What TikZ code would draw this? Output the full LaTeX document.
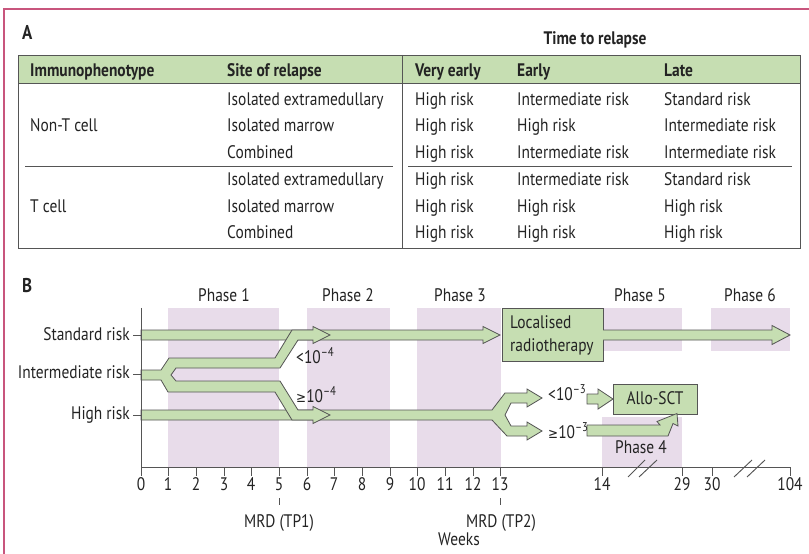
\documentclass[tikz,border=0pt]{standalone}
\usepackage{fontspec}
\setmainfont{PT Sans}[FakeStretch=0.85]
\newfontfamily\symfont{DejaVu Sans}[FakeStretch=0.85]
\usetikzlibrary{positioning}
\definecolor{framepink}{RGB}{200,85,125}
\definecolor{headgreen}{RGB}{198,222,178}
\definecolor{phaselilac}{RGB}{232,220,234}
\definecolor{linegray}{RGB}{85,85,85}
\definecolor{textgray}{RGB}{35,35,35}
\tikzset{
  lbl/.style={inner sep=0pt, text=textgray, font=\fontsize{15.5}{18}\selectfont},
  hdr/.style={inner sep=0pt, text=textgray, font=\fontsize{15.5}{18}\selectfont\bfseries},
  tabline/.style={draw=linegray, line width=0.8pt},
  blockarrow/.style={fill=headgreen, draw=linegray, line width=0.7pt, line join=miter},
  boxnode/.style={fill=headgreen, draw=linegray, line width=0.7pt},
}
\newcommand{\gesym}{{\symfont\fontsize{12}{14}\selectfont ≥}}
\begin{document}
\begin{tikzpicture}[x=0.3mm, y=-0.3mm]
  \useasboundingbox (0,0) rectangle (809,554);
  \draw[framepink, line width=1.2pt] (4,580) -- (4,9) -- (840,9);

  \node[hdr, anchor=base west, font=\fontsize{17}{19}\selectfont\bfseries] (labA) at (22,39.5) {A};
  \node[hdr, anchor=base] (ttr) at (595,45) {Time to relapse};

  \fill[headgreen] (18,55) rectangle (800,83);
  \draw[tabline] (18,55) rectangle (800,248);
  \draw[tabline] (18,83) -- (800,83);
  \draw[tabline] (402,55) -- (402,248);
  \draw[tabline] (25,166) -- (393,166);
  \draw[tabline] (408,166) -- (792,166);

  \node[hdr, anchor=base west] (himmuno) at (30,77) {Immunophenotype};
  \node[hdr, anchor=base west] (hsite) at (227,77) {Site of relapse};
  \node[hdr, anchor=base west] (hvery) at (415,77) {Very early};
  \node[hdr, anchor=base west] (hearly) at (517,77) {Early};
  \node[hdr, anchor=base west] (hlate) at (664,77) {Late};

  \node[lbl, anchor=base west] (nont) at (30,132) {Non-T cell};
  \node[lbl, anchor=base west] (tcell) at (30,213) {T cell};

  \node[lbl, anchor=base west] (s1) at (227,105.5) {Isolated extramedullary};
  \node[lbl, anchor=base west] (s2) at (227,132) {Isolated marrow};
  \node[lbl, anchor=base west] (s3) at (227,158.5) {Combined};
  \node[lbl, anchor=base west] (s4) at (227,185.5) {Isolated extramedullary};
  \node[lbl, anchor=base west] (s5) at (227,212.5) {Isolated marrow};
  \node[lbl, anchor=base west] (s6) at (227,239) {Combined};

  \node[lbl, anchor=base west] (v1) at (415,105.5) {High risk};
  \node[lbl, anchor=base west] (v2) at (415,132) {High risk};
  \node[lbl, anchor=base west] (v3) at (415,158.5) {High risk};
  \node[lbl, anchor=base west] (v4) at (415,185.5) {High risk};
  \node[lbl, anchor=base west] (v5) at (415,212.5) {High risk};
  \node[lbl, anchor=base west] (v6) at (415,239) {High risk};

  \node[lbl, anchor=base west] (e1) at (517,105.5) {Intermediate risk};
  \node[lbl, anchor=base west] (e2) at (517,132) {High risk};
  \node[lbl, anchor=base west] (e3) at (517,158.5) {Intermediate risk};
  \node[lbl, anchor=base west] (e4) at (517,185.5) {Intermediate risk};
  \node[lbl, anchor=base west] (e5) at (517,212.5) {High risk};
  \node[lbl, anchor=base west] (e6) at (517,239) {High risk};

  \node[lbl, anchor=base west] (l1) at (664,105.5) {Standard risk};
  \node[lbl, anchor=base west] (l2) at (664,132) {Intermediate risk};
  \node[lbl, anchor=base west] (l3) at (664,158.5) {Intermediate risk};
  \node[lbl, anchor=base west] (l4) at (664,185.5) {Standard risk};
  \node[lbl, anchor=base west] (l5) at (664,212.5) {High risk};
  \node[lbl, anchor=base west] (l6) at (664,239) {High risk};

  \node[hdr, anchor=base west, font=\fontsize{17}{19}\selectfont\bfseries] (labB) at (22,293) {B};

  \fill[phaselilac] (168,308) rectangle (279,467);
  \fill[phaselilac] (307,308) rectangle (390,467);
  \fill[phaselilac] (417,308) rectangle (501,467);
  \fill[phaselilac] (602,308) rectangle (682,351);
  \fill[phaselilac] (711,308) rectangle (790,351);
  \fill[phaselilac] (602,417) rectangle (682,467);

  \node[lbl, anchor=base] (ph1) at (224,302) {Phase 1};
  \node[lbl, anchor=base] (ph2) at (348,302) {Phase 2};
  \node[lbl, anchor=base] (ph3) at (460,302) {Phase 3};
  \node[lbl, anchor=base] (ph5) at (640,302) {Phase 5};
  \node[lbl, anchor=base] (ph6) at (750,302) {Phase 6};
  \node[lbl, anchor=base] (ph4) at (641,453) {Phase 4};

  \node[lbl, anchor=base east] (stdrisk) at (130,340) {Standard risk};
  \node[lbl, anchor=base east] (intrisk) at (130,378) {Intermediate risk};
  \node[lbl, anchor=base east] (highrisk) at (130,419) {High risk};
  \draw[linegray, line width=0.8pt] (133,335) -- (141,335);
  \draw[linegray, line width=0.8pt] (133,374) -- (141,374);
  \draw[linegray, line width=0.8pt] (133,415) -- (141,415);

  \draw[blockarrow] (141,330) -- (483,330) -- (483,326.5) -- (500,335) -- (483,343.5) -- (483,340) -- (141,340) -- cycle;
  \draw[blockarrow] (141,410) -- (492,410) -- (505,393) -- (527,393) -- (527,389) -- (542,398) -- (527,407) -- (527,403) -- (511,403) -- (505,415)
    -- (511,426) -- (527,426) -- (527,422) -- (542,431) -- (527,440) -- (527,436) -- (507,436) -- (492,420) -- (141,420) -- cycle;
  \draw[blockarrow] (141,370) -- (161,370) -- (169,358) -- (275,358) -- (292,330) -- (313,330) -- (313,326.5) -- (330,335) -- (313,343.5) -- (313,340) -- (298,340) -- (280,368)
    -- (176,368) -- (171,375) -- (176,381) -- (280,381) -- (298,410) -- (313,410) -- (313,406.5) -- (330,415) -- (313,423.5) -- (313,420) -- (292,420) -- (275,392)
    -- (168,392) -- (161,380) -- (141,380) -- cycle;

  \node[boxnode, minimum width=101*0.3mm, minimum height=53*0.3mm, inner sep=0pt] (radio) at (552.5,334.5) {};
  \node[lbl, anchor=base west] (radio1) at (510,328) {Localised};
  \node[lbl, anchor=base west] (radio2) at (510,351) {radiotherapy};
  \draw[blockarrow] (603,330) -- (772,330) -- (772,325.5) -- (790,335) -- (772,344.5) -- (772,340) -- (603,340);

  \node[boxnode, minimum width=84*0.3mm, minimum height=30*0.3mm, inner sep=0pt] (allo) at (655,399) {};
  \node[lbl, anchor=base] (allotxt) at (655,404) {Allo-SCT};
  \draw[blockarrow] (587,394) -- (598,394) -- (598,389) -- (613,399) -- (598,409) -- (598,404) -- (587,404) -- cycle;
  \draw[blockarrow] (587,425) -- (660,425) -- (657,421.5) -- (677,413.5) -- (678,426) -- (673,423.5) -- (668,436) -- (587,436) -- cycle;

  \node[lbl, anchor=base west] (mrdlow1) at (296,363) {<10\textsuperscript{–4}};
  \node[lbl, anchor=base west] (mrdhigh1) at (296,402) {\gesym10\textsuperscript{–4}};
  \node[lbl, anchor=base west] (mrdlow2) at (548,400) {<10\textsuperscript{–3}};
  \node[lbl, anchor=base west] (mrdhigh2) at (548,438) {\gesym10\textsuperscript{–3}};

  \draw[linegray, line width=0.8pt] (141,308) -- (141,476);
  \draw[linegray, line width=0.8pt] (141,467) -- (790,467);

  \draw[linegray, line width=0.8pt] (168,467) -- (168,476);
  \draw[linegray, line width=0.8pt] (196,467) -- (196,476);
  \draw[linegray, line width=0.8pt] (224,467) -- (224,476);
  \draw[linegray, line width=0.8pt] (251,467) -- (251,476);
  \draw[linegray, line width=0.8pt] (279,467) -- (279,476);
  \draw[linegray, line width=0.8pt] (307,467) -- (307,476);
  \draw[linegray, line width=0.8pt] (334,467) -- (334,476);
  \draw[linegray, line width=0.8pt] (362,467) -- (362,476);
  \draw[linegray, line width=0.8pt] (390,467) -- (390,476);
  \draw[linegray, line width=0.8pt] (417,467) -- (417,476);
  \draw[linegray, line width=0.8pt] (445,467) -- (445,476);
  \draw[linegray, line width=0.8pt] (473,467) -- (473,476);
  \draw[linegray, line width=0.8pt] (500,467) -- (500,476);
  \draw[linegray, line width=0.8pt] (602,467) -- (602,476);
  \draw[linegray, line width=0.8pt] (682,467) -- (682,476);
  \draw[linegray, line width=0.8pt] (712,467) -- (712,476);
  \draw[linegray, line width=0.8pt] (790,467) -- (790,476);

  \draw[linegray, line width=0.8pt] (628,477) -- (645,460);
  \draw[linegray, line width=0.8pt] (639,477) -- (657,460);
  \draw[linegray, line width=0.8pt] (734,477) -- (752,460);
  \draw[linegray, line width=0.8pt] (747,477) -- (765,460);

  \node[lbl, anchor=base] (w0) at (141,490) {0};
  \node[lbl, anchor=base] (w1) at (168,490) {1};
  \node[lbl, anchor=base] (w2) at (196,490) {2};
  \node[lbl, anchor=base] (w3) at (224,490) {3};
  \node[lbl, anchor=base] (w4) at (251,490) {4};
  \node[lbl, anchor=base] (w5) at (279,490) {5};
  \node[lbl, anchor=base] (w6) at (307,490) {6};
  \node[lbl, anchor=base] (w7) at (334,490) {7};
  \node[lbl, anchor=base] (w8) at (362,490) {8};
  \node[lbl, anchor=base] (w9) at (390,490) {9};
  \node[lbl, anchor=base] (w10) at (417,490) {10};
  \node[lbl, anchor=base] (w11) at (445,490) {11};
  \node[lbl, anchor=base] (w12) at (473,490) {12};
  \node[lbl, anchor=base] (w13) at (500,490) {13};
  \node[lbl, anchor=base] (w14) at (602,490) {14};
  \node[lbl, anchor=base] (w29) at (682,490) {29};
  \node[lbl, anchor=base] (w30) at (712,490) {30};
  \node[lbl, anchor=base] (w104) at (790,490) {104};

  \draw[linegray, line width=0.8pt] (279,498) -- (279,505);
  \draw[linegray, line width=0.8pt] (500,498) -- (500,505);
  \node[lbl, anchor=base] (tp1) at (279,527) {MRD (TP1)};
  \node[lbl, anchor=base] (tp2) at (501,527) {MRD (TP2)};
  \node[lbl, anchor=base] (weeks) at (459,545) {Weeks};
\end{tikzpicture}
\end{document}
